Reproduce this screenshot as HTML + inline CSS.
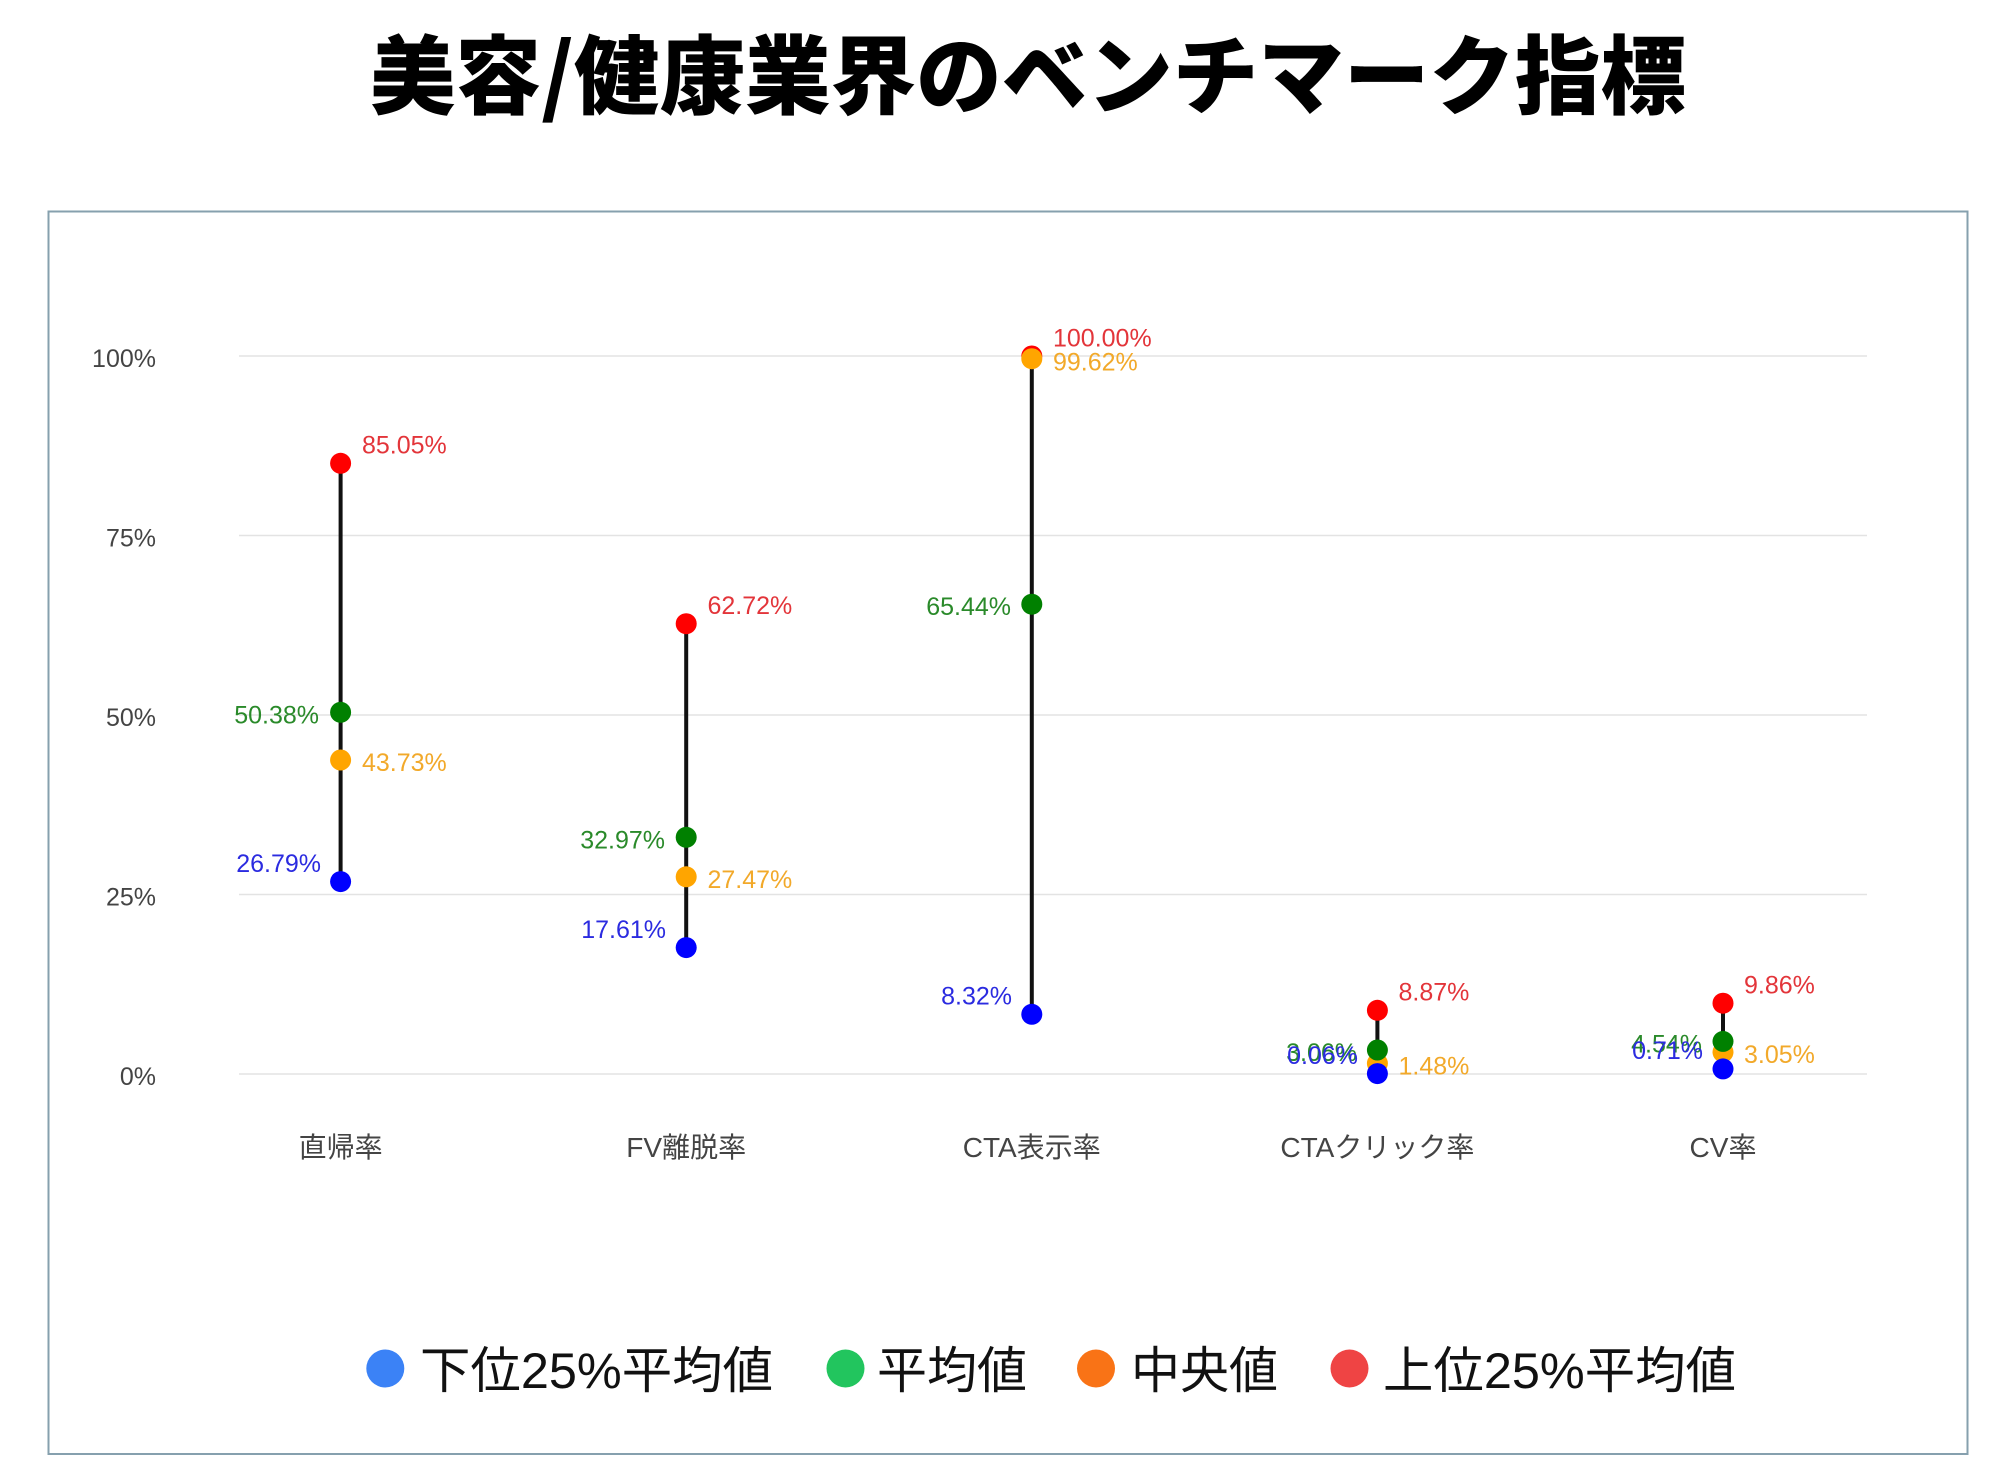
<!DOCTYPE html>
<html lang="ja">
<head>
<meta charset="utf-8">
<title>美容/健康業界のベンチマーク指標</title>
<style>
  html,body{margin:0;padding:0;background:#ffffff;}
  body{width:2002px;height:1480px;overflow:hidden;}
  svg{display:block;}
  .tick{font-family:"Liberation Sans","Noto Sans CJK JP",sans-serif;font-size:25px;fill:#444;}
  .xl{font-family:"Liberation Sans","Noto Sans CJK JP",sans-serif;font-size:28px;fill:#444;}
  .dl{font-family:"Liberation Sans","Noto Sans CJK JP",sans-serif;font-size:25px;}
  .lg{font-family:"Liberation Sans","Noto Sans CJK JP",sans-serif;font-size:50px;fill:#111;}
  .title{font-family:"Noto Sans CJK JP","Liberation Sans",sans-serif;font-size:86px;font-weight:900;fill:#000;}
</style>
</head>
<body>
<svg width="2002" height="1480" viewBox="0 0 2002 1480" xmlns="http://www.w3.org/2000/svg">
  <rect x="0" y="0" width="2002" height="1480" fill="#ffffff"/>

  <!-- Title -->
  <text class="title" x="370" y="107" textLength="1316" lengthAdjust="spacingAndGlyphs">美容/健康業界のベンチマーク指標</text>

  <!-- Chart frame -->
  <rect x="48.5" y="211.5" width="1919" height="1242.5" fill="none" stroke="#86a0ae" stroke-width="2"/>

  <!-- Gridlines -->
  <g stroke="#e3e3e3" stroke-width="1.5">
    <line x1="239" y1="356" x2="1867" y2="356"/>
    <line x1="239" y1="535.5" x2="1867" y2="535.5"/>
    <line x1="239" y1="715" x2="1867" y2="715"/>
    <line x1="239" y1="894.5" x2="1867" y2="894.5"/>
    <line x1="239" y1="1074" x2="1867" y2="1074"/>
  </g>

  <!-- Y tick labels -->
  <g class="tick" text-anchor="end">
    <text x="156" y="367">100%</text>
    <text x="156" y="546.5">75%</text>
    <text x="156" y="726">50%</text>
    <text x="156" y="905.5">25%</text>
    <text x="156" y="1085">0%</text>
  </g>

  <!-- X labels -->
  <g class="xl" text-anchor="middle">
    <text x="340.6" y="1157" textLength="84" lengthAdjust="spacingAndGlyphs">直帰率</text>
    <text x="686.2" y="1157" textLength="120" lengthAdjust="spacingAndGlyphs">FV離脱率</text>
    <text x="1031.8" y="1157" textLength="138" lengthAdjust="spacingAndGlyphs">CTA表示率</text>
    <text x="1377.4" y="1157" textLength="194" lengthAdjust="spacingAndGlyphs">CTAクリック率</text>
    <text x="1723" y="1157" textLength="67" lengthAdjust="spacingAndGlyphs">CV率</text>
  </g>

  <!-- Connector lines -->
  <g stroke="#111" stroke-width="4">
    <line x1="340.6" y1="463.3" x2="340.6" y2="881.6"/>
    <line x1="686.2" y1="623.7" x2="686.2" y2="947.6"/>
    <line x1="1031.8" y1="356" x2="1031.8" y2="1014.3"/>
    <line x1="1377.4" y1="1010.3" x2="1377.4" y2="1073.6"/>
    <line x1="1723" y1="1003.2" x2="1723" y2="1068.9"/>
  </g>

  <!-- Red (上位25%) -->
  <g fill="#ff0000">
    <circle cx="340.6" cy="463.3" r="10.5"/>
    <circle cx="686.2" cy="623.7" r="10.5"/>
    <circle cx="1031.8" cy="356" r="10.5"/>
    <circle cx="1377.4" cy="1010.3" r="10.5"/>
    <circle cx="1723" cy="1003.2" r="10.5"/>
  </g>
  <!-- Orange (中央値) -->
  <g fill="#ffa500">
    <circle cx="340.6" cy="760.0" r="10.5"/>
    <circle cx="686.2" cy="876.8" r="10.5"/>
    <circle cx="1031.8" cy="358.7" r="10.5"/>
    <circle cx="1377.4" cy="1063.4" r="10.5"/>
    <circle cx="1723" cy="1052.1" r="10.5"/>
  </g>
  <!-- Green (平均値) -->
  <g fill="#008000">
    <circle cx="340.6" cy="712.3" r="10.5"/>
    <circle cx="686.2" cy="837.3" r="10.5"/>
    <circle cx="1031.8" cy="604.2" r="10.5"/>
    <circle cx="1377.4" cy="1050" r="10.5"/>
    <circle cx="1723" cy="1041.4" r="10.5"/>
  </g>
  <!-- Blue (下位25%) -->
  <g fill="#0000ff">
    <circle cx="340.6" cy="881.6" r="10.5"/>
    <circle cx="686.2" cy="947.6" r="10.5"/>
    <circle cx="1031.8" cy="1014.3" r="10.5"/>
    <circle cx="1377.4" cy="1073.6" r="10.5"/>
    <circle cx="1723" cy="1068.9" r="10.5"/>
  </g>

  <!-- Data labels: red (right, above) -->
  <g class="dl" fill="#e3353a">
    <text x="362" y="453.6">85.05%</text>
    <text x="707.5" y="614">62.72%</text>
    <text x="1053" y="346.3">100.00%</text>
    <text x="1398.5" y="1000.6">8.87%</text>
    <text x="1744" y="993.5">9.86%</text>
  </g>
  <!-- orange (right, centered) -->
  <g class="dl" fill="#f2a92a">
    <text x="362" y="771">43.73%</text>
    <text x="707.5" y="887.8">27.47%</text>
    <text x="1053" y="370.7">99.62%</text>
    <text x="1398.5" y="1074.4">1.48%</text>
    <text x="1744" y="1063.1">3.05%</text>
  </g>
  <!-- green (left, centered) -->
  <g class="dl" fill="#2a8a2a" text-anchor="end">
    <text x="319" y="723.3">50.38%</text>
    <text x="665" y="848.3">32.97%</text>
    <text x="1011" y="615.2">65.44%</text>
    <text x="1357" y="1061">3.06%</text>
    <text x="1702" y="1052.4">4.54%</text>
  </g>
  <!-- blue (left, above) -->
  <g class="dl" fill="#2b2be0" text-anchor="end">
    <text x="321" y="871.9">26.79%</text>
    <text x="666" y="937.9">17.61%</text>
    <text x="1012" y="1004.6">8.32%</text>
    <text x="1358" y="1063.9">0.06%</text>
    <text x="1703" y="1059.2">0.71%</text>
  </g>

  <!-- Legend -->
  <circle cx="385.3" cy="1368.5" r="19" fill="#3b82f6"/>
  <text class="lg" x="420" y="1388" textLength="353" lengthAdjust="spacingAndGlyphs">下位25%平均値</text>
  <circle cx="845.5" cy="1368.5" r="19" fill="#22c55e"/>
  <text class="lg" x="877" y="1388" textLength="150" lengthAdjust="spacingAndGlyphs">平均値</text>
  <circle cx="1096" cy="1368.5" r="19" fill="#f97316"/>
  <text class="lg" x="1131" y="1388" textLength="147" lengthAdjust="spacingAndGlyphs">中央値</text>
  <circle cx="1349.5" cy="1368.5" r="19" fill="#ef4444"/>
  <text class="lg" x="1383" y="1388" textLength="353" lengthAdjust="spacingAndGlyphs">上位25%平均値</text>
</svg>
</body>
</html>
